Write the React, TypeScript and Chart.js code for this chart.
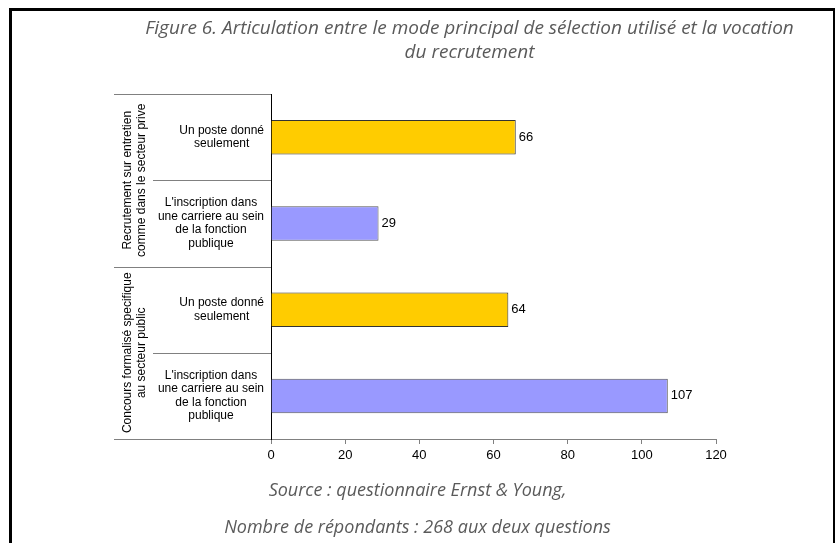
import React, { useEffect, useRef } from "react";
import { Chart, registerables } from "chart.js";

Chart.register(...registerables);

// Category labels (top to bottom), each split into its wrapped lines
const categoryLines: string[][] = [
  ["Un poste donné", "seulement"],
  ["L'inscription dans", "une carriere au sein", "de la fonction", "publique"],
  ["Un poste donné", "seulement"],
  ["L'inscription dans", "une carriere au sein", "de la fonction", "publique"],
];

// Outer grouping of the categories (two categories per group)
const groupLines: string[][] = [
  ["Recrutement sur entretien", "comme dans le secteur prive"],
  ["Concours formalisé specifique", "au secteur public"],
];
const groupSize = 2;

// Number of respondents per category
const values: number[] = [66, 29, 64, 107];

const barColors: string[] = ["#FFCC00", "#9999FF", "#FFCC00", "#9999FF"];
const barBorders: string[] = ["#333333", "#555555", "#333333", "#555555"];

const xTicks = { min: 0, max: 120, step: 20 };

const titleLines: string[] = [
  "Figure 6. Articulation entre le mode principal de sélection utilisé et la vocation",
  "du recrutement",
];
const sourceLines: string[] = [
  "Source : questionnaire Ernst & Young,",
  "Nombre de répondants : 268 aux deux questions",
];

const AXIS_FONT = "'Liberation Sans', Arial, sans-serif";

// Draws the two-level category axis (labels + separators) and the value labels
const groupedAxisPlugin = {
  id: "groupedAxis",
  afterDraw(chart: any) {
    const { ctx, chartArea } = chart;
    const yScale = chart.scales.y;
    const xScale = chart.scales.x;
    const axisX = chartArea.left;
    const n = values.length;
    const edge = (i: number) => yScale.getPixelForValue(i - 0.5);

    ctx.save();
    ctx.lineWidth = 1;
    ctx.strokeStyle = "#808080";

    // separators between categories and between groups
    for (let i = 0; i <= n; i++) {
      const y = Math.round(edge(i)) + 0.5;
      const isGroupEdge = i % groupSize === 0;
      const x0 = isGroupEdge ? 114 : 153;
      ctx.beginPath();
      ctx.moveTo(x0, y);
      ctx.lineTo(axisX, y);
      ctx.stroke();
    }

    // category labels: lines centred inside a right-aligned block
    ctx.fillStyle = "#000";
    ctx.font = `12px ${AXIS_FONT}`;
    ctx.textBaseline = "middle";
    ctx.textAlign = "center";
    const lh = 13.5;
    categoryLines.forEach((lines, i) => {
      const cy = yScale.getPixelForValue(i);
      const widest = Math.max(...lines.map((l) => ctx.measureText(l).width));
      const cx = axisX - 7 - widest / 2;
      lines.forEach((line, k) => {
        ctx.fillText(line, cx, cy + (k - (lines.length - 1) / 2) * lh);
      });
    });

    // group labels, rotated
    groupLines.forEach((lines, g) => {
      const top = edge(g * groupSize);
      const bottom = edge(g * groupSize + groupSize);
      const cy = (top + bottom) / 2;
      ctx.save();
      ctx.translate(135, cy);
      ctx.rotate(-Math.PI / 2);
      lines.forEach((line, k) => {
        ctx.fillText(line, 0, (k - (lines.length - 1) / 2) * 14);
      });
      ctx.restore();
    });

    // value labels at the end of each bar
    ctx.font = `13px ${AXIS_FONT}`;
    ctx.textAlign = "left";
    values.forEach((v, i) => {
      ctx.fillText(String(v), xScale.getPixelForValue(v) + 3, yScale.getPixelForValue(i));
    });
    ctx.restore();
  },
};

function BarChart() {
  const canvasRef = useRef<HTMLCanvasElement | null>(null);

  useEffect(() => {
    if (!canvasRef.current) return;
    const chart = new Chart(canvasRef.current, {
      type: "bar",
      data: {
        labels: categoryLines.map((l) => l.join(" ")),
        datasets: [
          {
            data: values,
            backgroundColor: barColors,
            borderColor: barBorders,
            borderWidth: 1,
            categoryPercentage: 1,
            barPercentage: 0.4,
          },
        ],
      },
      options: {
        indexAxis: "y",
        animation: false,
        responsive: false,
        layout: { padding: { left: 0, right: 119, top: 94, bottom: 74 } },
        plugins: {
          legend: { display: false },
          tooltip: { enabled: false },
          title: { display: false },
        },
        scales: {
          x: {
            min: xTicks.min,
            max: xTicks.max,
            ticks: {
              stepSize: xTicks.step,
              color: "#000",
              padding: 4,
              font: { family: AXIS_FONT, size: 13 },
            },
            grid: { drawOnChartArea: false, tickLength: 5, color: "#808080" },
            border: { color: "#808080" },
            afterFit: (s: any) => {
              s.height = 30;
            },
          },
          y: {
            ticks: { display: false },
            grid: { display: false },
            border: { color: "#000" },
            afterFit: (s: any) => {
              s.width = 271;
            },
          },
        },
      },
      plugins: [groupedAxisPlugin],
    });
    return () => chart.destroy();
  }, []);

  return (
    <canvas
      ref={canvasRef}
      width={835}
      height={543}
      style={{ position: "absolute", left: 0, top: 0, width: 835, height: 543 }}
    />
  );
}

const captionStyle: React.CSSProperties = {
  position: "absolute",
  left: 0,
  width: 835,
  textAlign: "center",
  fontFamily: "'Open Sans', sans-serif",
  fontStyle: "italic",
  color: "#5a5a5a",
  whiteSpace: "nowrap",
};

export default function App() {
  return (
    <div
      style={{
        position: "fixed",
        left: 0,
        top: 0,
        width: 835,
        height: 543,
        overflow: "hidden",
        background: "#fff",
      }}
    >
      <div
        style={{
          position: "absolute",
          left: 9,
          top: 8,
          width: 821,
          height: 600,
          border: "3px solid #000",
        }}
      />
      <BarChart />
      <div style={{ ...captionStyle, top: 15, left: 52, fontSize: 19, lineHeight: "24px" }}>
        {titleLines.map((t) => (
          <div key={t}>{t}</div>
        ))}
      </div>
      <div style={{ ...captionStyle, top: 471, fontSize: 18, lineHeight: "37px" }}>
        {sourceLines.map((t) => (
          <div key={t}>{t}</div>
        ))}
      </div>
    </div>
  );
}
